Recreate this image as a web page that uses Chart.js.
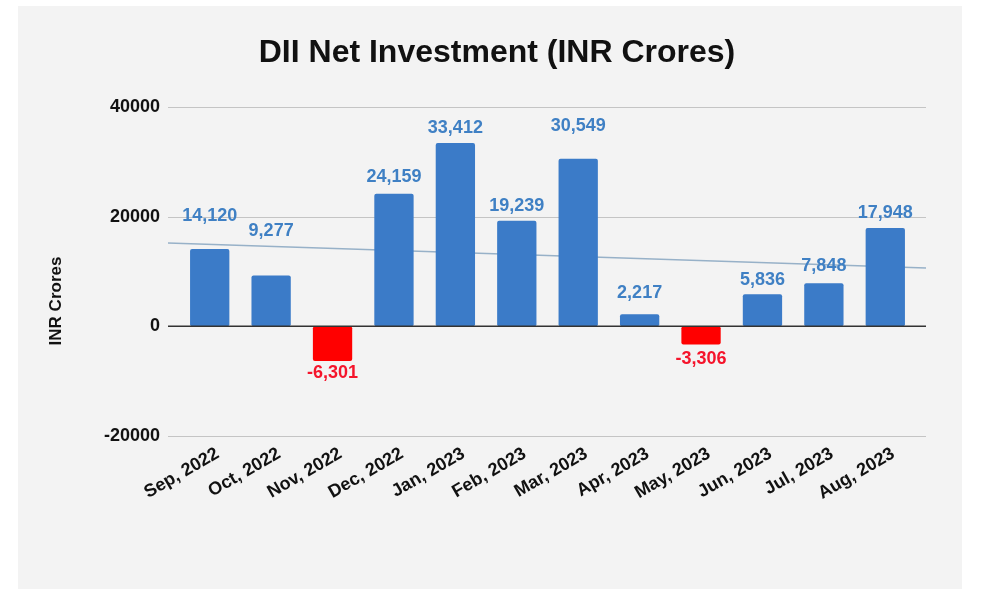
<!DOCTYPE html>
<html>
<head>
<meta charset="utf-8">
<title>DII Net Investment</title>
<script src="https://cdn.jsdelivr.net/npm/chart.js@4/dist/chart.umd.min.js"></script>
<style>
  html, body { margin: 0; padding: 0; background: #fff; }
  #wrap { width: 981px; height: 589px; }
</style>
</head>
<body>
<div id="wrap"><canvas id="dii-chart" width="981" height="589"></canvas></div>
<script>
const months = ['Sep, 2022', 'Oct, 2022', 'Nov, 2022', 'Dec, 2022', 'Jan, 2023', 'Feb, 2023', 'Mar, 2023', 'Apr, 2023', 'May, 2023', 'Jun, 2023', 'Jul, 2023', 'Aug, 2023']
const netInvestment = [14120, 9277, -6301, 24159, 33412, 19239, 30549, 2217, -3306, 5836, 7848, 17948]
const yTicks = [-20000, 0, 20000, 40000]

// how far each value label sits from the end of its bar (px)
const labelLift = [33, 44, 12, 17, 15, 15, 33, 21, 15, 14, 17, 15]

const font = 'Liberation Sans, Arial, sans-serif'
const blue = '#3b7bc8'
const red = '#ff0000'

// least squares trend over the month index
const n = netInvestment.length
const meanX = (n - 1) / 2
const meanY = netInvestment.reduce((a, b) => a + b, 0) / n
let sxy = 0
let sxx = 0
netInvestment.forEach((v, i) => {
  sxy += (i - meanX) * (v - meanY)
  sxx += (i - meanX) * (i - meanX)
})
const slope = sxy / sxx
const trendAt = (i) => meanY + slope * (i - meanX)

const sheetLook = {
  id: 'sheetLook',
  beforeDraw(chart) {
    const c = chart.ctx
    c.save()
    c.fillStyle = '#ffffff'
    c.fillRect(0, 0, chart.width, chart.height)
    c.fillStyle = '#f3f3f3'
    c.fillRect(18, 6, 944, 583)
    c.restore()
  },
  beforeDatasetsDraw(chart) {
    const c = chart.ctx
    const area = chart.chartArea
    const x = chart.scales.x
    const y = chart.scales.y
    const left = area.left - 11
    const right = area.right + 10

    c.save()
    c.strokeStyle = '#c4c4c4'
    c.lineWidth = 1
    yTicks.forEach((t) => {
      if (t === 0) return
      const py = Math.round(y.getPixelForValue(t)) + 0.5
      c.beginPath()
      c.moveTo(left, py)
      c.lineTo(right, py)
      c.stroke()
    })

    // trend line across the whole grid width
    const x0 = x.getPixelForValue(0)
    const step = x.getPixelForValue(1) - x0
    const iLeft = (left - x0) / step
    const iRight = (right - x0) / step
    c.strokeStyle = '#97b1c8'
    c.lineWidth = 1.5
    c.beginPath()
    c.moveTo(left, y.getPixelForValue(trendAt(iLeft)))
    c.lineTo(right, y.getPixelForValue(trendAt(iRight)))
    c.stroke()
    c.restore()
  },
  afterDatasetsDraw(chart) {
    const c = chart.ctx
    const area = chart.chartArea
    const y = chart.scales.y
    const meta = chart.getDatasetMeta(0)

    c.save()
    // zero line over the bar bases
    const zy = y.getPixelForValue(0)
    c.strokeStyle = '#333333'
    c.lineWidth = 1.5
    c.beginPath()
    c.moveTo(area.left - 11, zy)
    c.lineTo(area.right + 10, zy)
    c.stroke()

    c.font = 'bold 18px ' + font
    c.textAlign = 'center'
    c.textBaseline = 'middle'
    meta.data.forEach((bar, i) => {
      const v = netInvestment[i]
      const ty = v < 0 ? bar.y + labelLift[i] : bar.y - labelLift[i]
      c.fillStyle = v < 0 ? '#f5142b' : '#3f80c4'
      c.fillText(v.toLocaleString('en-US'), bar.x, ty)
    })

    // axis title
    c.translate(56, 301)
    c.rotate(-Math.PI / 2)
    c.fillStyle = '#111111'
    c.font = 'bold 17px ' + font
    c.fillText('INR Crores', 0, 0)
    c.restore()
  }
}

const ctx = document.getElementById('dii-chart')

const diiChart = new Chart(ctx, {
  type: 'bar',
  data: {
    labels: months,
    datasets: [
      {
        label: 'DII Net Investment',
        data: netInvestment,
        backgroundColor: netInvestment.map((v) => (v < 0 ? red : blue)),
        borderRadius: 2,
        borderSkipped: false,
        barPercentage: 0.64,
        categoryPercentage: 1,
      },
    ],
  },
  options: {
    responsive: false,
    animation: false,
    devicePixelRatio: 1,
    layout: { padding: { left: 78, right: 65, top: 0, bottom: 0 } },
    plugins: {
      legend: { display: false },
      tooltip: { enabled: false },
      title: {
        display: true,
        text: 'DII Net Investment (INR Crores)',
        color: '#111111',
        font: { family: font, size: 32, weight: 'bold', lineHeight: 1.2 },
        padding: { top: 33.8, bottom: 34.8 },
      },
    },
    scales: {
      x: {
        grid: { display: false, drawTicks: false },
        border: { display: false },
        ticks: {
          color: '#111111',
          font: { family: font, size: 18, weight: 'bold' },
          minRotation: 30,
          maxRotation: 30,
          padding: 7,
          labelOffset: 8,
        },
        afterFit(scale) {
          scale.height = 153
        },
      },
      y: {
        min: -20000,
        max: 40000,
        grid: { display: false, drawTicks: false },
        border: { display: false },
        afterBuildTicks(scale) {
          scale.ticks = yTicks.map((v) => ({ value: v }))
        },
        ticks: {
          color: '#111111',
          font: { family: font, size: 18, weight: 'bold' },
          padding: 19,
          callback: (v) => String(v),
        },
        afterFit(scale) {
          scale.width = 101
        },
      },
    },
  },
  plugins: [sheetLook],
})
</script>
</body>
</html>
